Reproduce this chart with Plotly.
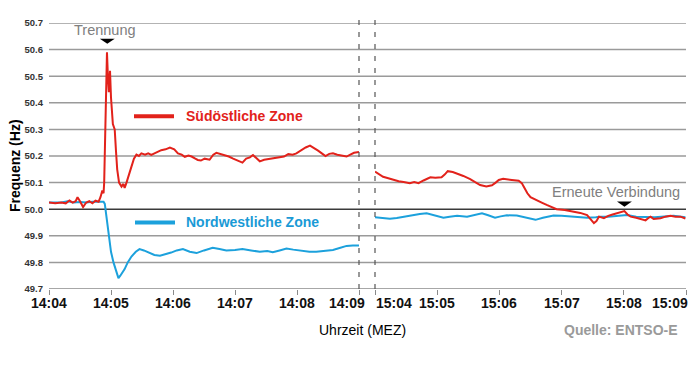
import plotly.graph_objects as go

# ---------------- data ----------------
# minutes after 14:04 (left panel) / after 15:04 (right panel)
se_left_t = [0.00, 0.10, 0.20, 0.27, 0.33, 0.38, 0.43, 0.46, 0.50, 0.55, 0.60, 0.65, 0.70, 0.75, 0.80,
             0.83, 0.86, 0.88, 0.89, 0.905, 0.92, 0.935, 0.95, 0.965, 0.984, 1.00, 1.03, 1.06, 1.08, 1.10,
             1.13, 1.17, 1.20, 1.22, 1.25, 1.28, 1.33, 1.37, 1.41, 1.45, 1.49, 1.55, 1.60, 1.65, 1.72,
             1.81, 1.88, 1.95, 2.02, 2.08, 2.14, 2.19, 2.25, 2.30, 2.36, 2.40, 2.45, 2.51, 2.59, 2.65,
             2.70, 2.78, 2.84, 2.90, 2.97, 3.04, 3.12, 3.18, 3.24, 3.29, 3.35, 3.40, 3.47, 3.56, 3.64,
             3.72, 3.79, 3.86, 3.93, 3.99, 4.07, 4.14, 4.21, 4.28, 4.34, 4.40, 4.46, 4.52, 4.58, 4.65,
             4.72, 4.80, 4.86, 4.92, 5.00]
se_left_v = [50.025, 50.022, 50.025, 50.022, 50.033, 50.025, 50.030, 50.045, 50.030, 50.008, 50.025, 50.030,
             50.022, 50.032, 50.028, 50.045, 50.070, 50.060, 50.100, 50.250, 50.450, 50.590, 50.500, 50.440,
             50.520, 50.420, 50.320, 50.300, 50.220, 50.150, 50.100, 50.085, 50.095, 50.080, 50.100, 50.120,
             50.160, 50.190, 50.205, 50.200, 50.210, 50.205, 50.210, 50.204, 50.212, 50.222, 50.225, 50.232,
             50.225, 50.210, 50.205, 50.197, 50.202, 50.198, 50.190, 50.185, 50.183, 50.190, 50.186, 50.205,
             50.212, 50.207, 50.204, 50.198, 50.190, 50.183, 50.175, 50.190, 50.195, 50.204, 50.190, 50.180,
             50.186, 50.190, 50.192, 50.195, 50.198, 50.207, 50.205, 50.210, 50.222, 50.232, 50.239, 50.230,
             50.220, 50.210, 50.200, 50.208, 50.210, 50.205, 50.203, 50.198, 50.205, 50.212, 50.215]

nw_left_t = [0.00, 0.20, 0.30, 0.40, 0.50, 0.60, 0.70, 0.80, 0.88, 0.90, 0.93, 0.95, 0.98, 1.00, 1.04,
             1.07, 1.10, 1.12, 1.15, 1.19, 1.22, 1.27, 1.33, 1.40, 1.46, 1.53, 1.60, 1.70, 1.79, 1.88,
             1.97, 2.06, 2.16, 2.27, 2.38, 2.50, 2.64, 2.75, 2.86, 3.00, 3.12, 3.26, 3.40, 3.52, 3.61,
             3.72, 3.83, 3.94, 4.04, 4.20, 4.31, 4.45, 4.58, 4.70, 4.80, 4.90, 5.00]
nw_left_v = [50.025, 50.025, 50.030, 50.025, 50.027, 50.025, 50.028, 50.027, 50.028, 50.020, 49.960, 49.920,
             49.880, 49.840, 49.800, 49.780, 49.755, 49.741, 49.750, 49.765, 49.775, 49.800, 49.822, 49.840,
             49.850, 49.845, 49.837, 49.828, 49.825, 49.830, 49.837, 49.845, 49.850, 49.840, 49.835, 49.845,
             49.855, 49.850, 49.845, 49.847, 49.850, 49.845, 49.840, 49.843, 49.838, 49.845, 49.852, 49.848,
             49.845, 49.840, 49.840, 49.843, 49.847, 49.855, 49.862, 49.864, 49.864]

se_right_t = [0.00, 0.06, 0.13, 0.20, 0.30, 0.38, 0.46, 0.56, 0.63, 0.70, 0.78, 0.89, 0.97, 1.07, 1.12,
              1.17, 1.25, 1.32, 1.42, 1.53, 1.62, 1.69, 1.79, 1.88, 1.94, 1.99, 2.06, 2.12, 2.20, 2.31,
              2.36, 2.39, 2.45, 2.50, 2.58, 2.68, 2.76, 2.84, 2.92, 3.05, 3.19, 3.30, 3.41, 3.46, 3.52,
              3.56, 3.60, 3.68, 3.75, 3.82, 3.89, 3.95, 4.01, 4.06, 4.11, 4.20, 4.30, 4.35, 4.40, 4.43,
              4.48, 4.59, 4.67, 4.75, 4.83, 4.91, 4.99]
se_right_v = [50.141, 50.132, 50.122, 50.117, 50.110, 50.105, 50.102, 50.098, 50.102, 50.098, 50.108, 50.120,
              50.118, 50.120, 50.130, 50.143, 50.140, 50.135, 50.125, 50.113, 50.100, 50.091, 50.085, 50.090,
              50.100, 50.110, 50.114, 50.113, 50.110, 50.107, 50.098, 50.085, 50.060, 50.045, 50.035, 50.025,
              50.016, 50.008, 50.000, 49.997, 49.992, 49.986, 49.978, 49.965, 49.948, 49.955, 49.972, 49.966,
              49.975, 49.980, 49.985, 49.988, 49.993, 49.980, 49.972, 49.968, 49.962, 49.958, 49.968, 49.972,
              49.963, 49.966, 49.972, 49.975, 49.972, 49.972, 49.965]

nw_right_t = [0.00, 0.12, 0.24, 0.35, 0.46, 0.62, 0.72, 0.83, 0.95, 1.10, 1.20, 1.32, 1.48, 1.60, 1.72,
              1.82, 1.93, 2.02, 2.12, 2.28, 2.40, 2.50, 2.58, 2.70, 2.87, 3.00, 3.19, 3.32, 3.41, 3.55,
              3.62, 3.75, 3.90, 4.05, 4.20, 4.35, 4.50, 4.65, 4.80, 4.99]
nw_right_v = [49.970, 49.967, 49.964, 49.967, 49.972, 49.979, 49.982, 49.985, 49.978, 49.968, 49.972, 49.975,
              49.972, 49.978, 49.985, 49.977, 49.968, 49.973, 49.977, 49.976, 49.970, 49.964, 49.960, 49.968,
              49.976, 49.975, 49.972, 49.969, 49.968, 49.970, 49.972, 49.972, 49.975, 49.978, 49.972, 49.970,
              49.970, 49.973, 49.975, 49.970]

left_ticks = [0, 1, 2, 3, 4, 5]
left_ticktext = ["14:04", "14:05", "14:06", "14:07", "14:08", "14:09"]
right_ticks = [0, 1, 2, 3, 4, 5]
right_ticktext = ["15:04", "15:05", "15:06", "15:07", "15:08", "15:09"]
y_ticks = [49.7, 49.8, 49.9, 50.0, 50.1, 50.2, 50.3, 50.4, 50.5, 50.6, 50.7]

separation_time = 0.94      # minutes after 14:04
reconnection_time = 4.01    # minutes after 15:04

# ---------------- style ----------------
RED = "#e2221b"
BLUE = "#1ca1dc"
FONT = "Liberation Sans, Arial, sans-serif"
OFF = 8                      # default page body margin
W, H = 692, 359
L, R, T, B = 41, 14, 15, 78
PW = W - L - R
PH = H - T - B
LEFT_END = 310 / PW
RIGHT_START = 326 / PW


def px2paper_x(px):
    return (px - OFF - L) / PW


def px2paper_y(py):
    return (H - B - (py - OFF)) / PH


fig = go.Figure()

fig.add_trace(go.Scatter(x=nw_left_t, y=nw_left_v, xaxis="x", yaxis="y", mode="lines",
                         line=dict(color=BLUE, width=2), hoverinfo="skip", showlegend=False))
fig.add_trace(go.Scatter(x=se_left_t, y=se_left_v, xaxis="x", yaxis="y", mode="lines",
                         line=dict(color=RED, width=2), hoverinfo="skip", showlegend=False))
fig.add_trace(go.Scatter(x=nw_right_t, y=nw_right_v, xaxis="x2", yaxis="y", mode="lines",
                         line=dict(color=BLUE, width=2), hoverinfo="skip", showlegend=False))
fig.add_trace(go.Scatter(x=se_right_t, y=se_right_v, xaxis="x2", yaxis="y", mode="lines",
                         line=dict(color=RED, width=2), hoverinfo="skip", showlegend=False))

shapes = []
# horizontal grid lines spanning both panels
for v in y_ticks[1:]:
    shapes.append(dict(type="line", xref="paper", yref="y", x0=0, x1=1, y0=v, y1=v,
                       line=dict(color="#3a3a3a" if abs(v - 50.0) < 1e-9 else "#9a9a9a", width=1.5),
                       layer="below"))
# bottom axis line
shapes.append(dict(type="line", xref="paper", yref="y", x0=0, x1=1, y0=49.7, y1=49.7,
                   line=dict(color="#8a8a8a", width=1.5), layer="below"))
# dashed separators
for xp in (LEFT_END, RIGHT_START):
    shapes.append(dict(type="line", xref="paper", yref="paper", x0=xp, x1=xp,
                       y0=0, y1=px2paper_y(16.5),
                       line=dict(color="#555555", width=1.2, dash="5px,7px")))
# event markers (flat black triangles)
shapes.append(dict(type="path", xref="x", yref="y",
                   path=f"M {separation_time - 0.12} 50.641 L {separation_time + 0.12} 50.641 "
                        f"L {separation_time} 50.622 Z",
                   fillcolor="black", line=dict(width=0)))
shapes.append(dict(type="path", xref="x2", yref="y",
                   path=f"M {reconnection_time - 0.12} 50.029 L {reconnection_time + 0.12} 50.029 "
                        f"L {reconnection_time} 50.009 Z",
                   fillcolor="black", line=dict(width=0)))
# legend lines
shapes.append(dict(type="line", xref="paper", yref="paper",
                   x0=px2paper_x(134), x1=px2paper_x(174), y0=px2paper_y(116.3), y1=px2paper_y(116.3),
                   line=dict(color=RED, width=4)))
shapes.append(dict(type="line", xref="paper", yref="paper",
                   x0=px2paper_x(135), x1=px2paper_x(175), y0=px2paper_y(222.5), y1=px2paper_y(222.5),
                   line=dict(color=BLUE, width=4)))

TICKFONT = dict(family=FONT, size=14, color="#111111", weight="bold")
TICK_Y = px2paper_y(303)

annotations = [
    dict(text="Trennung", xref="x", yref="y", x=separation_time - 0.04, y=50.672, showarrow=False,
         font=dict(family=FONT, size=14.5, color="#808080")),
    dict(text="Erneute Verbindung", xref="x2", yref="y", x=reconnection_time - 0.14, y=50.066,
         showarrow=False, font=dict(family=FONT, size=14.5, color="#808080")),
    dict(text="Südöstliche Zone", xref="paper", yref="paper", x=px2paper_x(184), y=px2paper_y(116.3),
         xanchor="left", yanchor="middle", showarrow=False,
         font=dict(family=FONT, size=14, color=RED, weight="bold")),
    dict(text="Nordwestliche Zone", xref="paper", yref="paper", x=px2paper_x(184), y=px2paper_y(222),
         xanchor="left", yanchor="middle", showarrow=False,
         font=dict(family=FONT, size=14, color="#1a9ad6", weight="bold")),
    dict(text="Frequenz (Hz)", xref="paper", yref="paper", x=px2paper_x(15), y=px2paper_y(166),
         textangle=-90, showarrow=False, xanchor="center", yanchor="middle",
         font=dict(family=FONT, size=14, color="black", weight="bold")),
    dict(text="Uhrzeit (MEZ)", xref="paper", yref="paper", x=px2paper_x(362), y=px2paper_y(330),
         showarrow=False, xanchor="center", yanchor="middle",
         font=dict(family=FONT, size=14, color="black")),
    dict(text="Quelle: ENTSO-E", xref="paper", yref="paper", x=px2paper_x(680), y=px2paper_y(330),
         showarrow=False, xanchor="right", yanchor="middle",
         font=dict(family=FONT, size=14, color="#9a9a9a", weight="bold")),
]

# time labels under the ticks (placed at the tick values; the ones at the break and edge nudged)
for i, (tv, tt) in enumerate(zip(left_ticks, left_ticktext)):
    last = i == len(left_ticks) - 1
    annotations.append(dict(text=tt, xref="x", yref="paper", x=tv, y=TICK_Y, showarrow=False,
                            xanchor="right" if last else "center", xshift=8 if last else 0,
                            yanchor="middle", font=TICKFONT))
for i, (tv, tt) in enumerate(zip(right_ticks, right_ticktext)):
    if i == 0:
        anchor, shift = "left", -1.5
    elif i == len(right_ticks) - 1:
        anchor, shift = "right", 4.3
    else:
        anchor, shift = "center", 0
    annotations.append(dict(text=tt, xref="x2", yref="paper", x=tv, y=TICK_Y, showarrow=False,
                            xanchor=anchor, xshift=shift, yanchor="middle", font=TICKFONT))

xaxis_common = dict(range=[0, 5], showgrid=False, zeroline=False, showline=False,
                    ticks="outside", ticklen=5, tickwidth=1, tickcolor="#8a8a8a",
                    showticklabels=False, automargin=False, fixedrange=True)

fig.update_layout(
    width=W, height=H,
    margin=dict(l=L, r=R, t=T, b=B, autoexpand=False),
    paper_bgcolor="white", plot_bgcolor="white",
    xaxis=dict(domain=[0, LEFT_END], anchor="y", tickvals=left_ticks, **xaxis_common),
    xaxis2=dict(domain=[RIGHT_START, 1], anchor="y", tickvals=right_ticks, **xaxis_common),
    yaxis=dict(range=[49.7, 50.7], tickvals=y_ticks, ticktext=[f"{v:.1f}" for v in y_ticks],
               showgrid=False, zeroline=False, showline=False, ticks="", automargin=False,
               ticklabelstandoff=5,
               tickfont=dict(family=FONT, size=9.5, color="#333333", weight="bold")),
    shapes=shapes,
    annotations=annotations,
    showlegend=False,
)

fig.write_html("out.html")
